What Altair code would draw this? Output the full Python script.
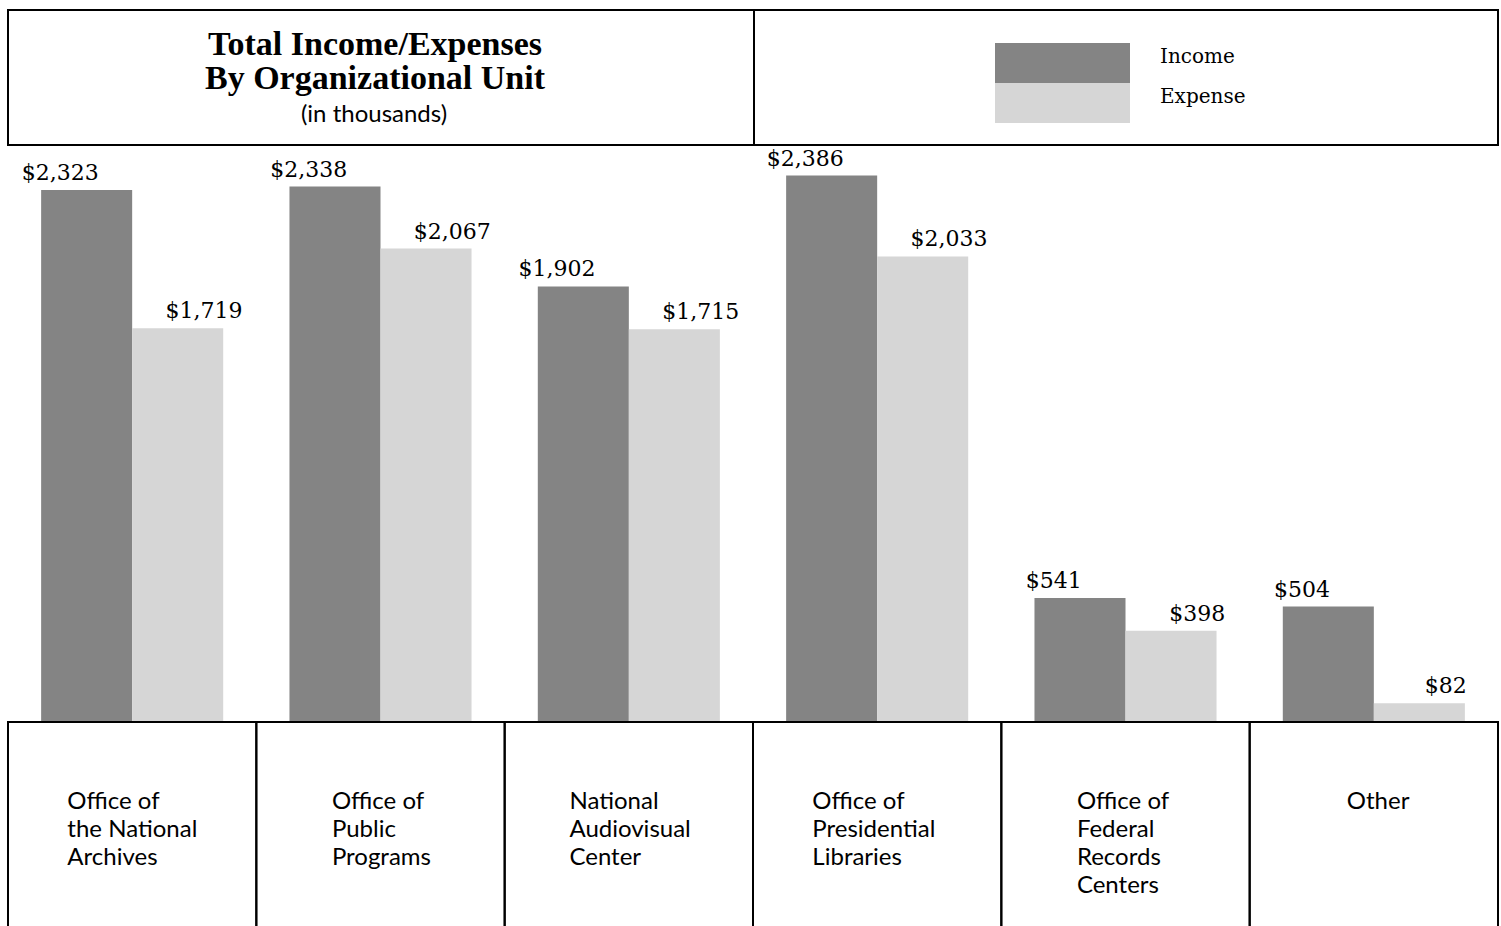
import altair as alt
import pandas as pd

# Organizational units and their multi-line captions
units = [
    "Office of the National Archives",
    "Office of Public Programs",
    "National Audiovisual Center",
    "Office of Presidential Libraries",
    "Office of Federal Records Centers",
    "Other",
]
unit_lines = [
    ["Office of", "the National", "Archives"],
    ["Office of", "Public", "Programs"],
    ["National", "Audiovisual", "Center"],
    ["Office of", "Presidential", "Libraries"],
    ["Office of", "Federal", "Records", "Centers"],
    ["Other"],
]

# Totals in thousands of dollars
series = ["Income", "Expense"]
income = [2323, 2338, 1902, 2386, 541, 504]
expense = [1719, 2067, 1715, 2033, 398, 82]
series_colors = ["#848484", "#d6d6d6"]

title_lines = ["Total Income/Expenses", "By Organizational Unit"]
subtitle = "(in thousands)"

W, H = 1501, 926
LEFT, RIGHT = 8, 1498
half_band = (RIGHT - LEFT) / len(units) / 2

bars_df = pd.DataFrame(
    [{"unit": u, "series": "Income", "value": v} for u, v in zip(units, income)]
    + [{"unit": u, "series": "Expense", "value": v} for u, v in zip(units, expense)]
)
units_df = pd.DataFrame({
    "unit": units,
    "caption": ["\n".join(l) for l in unit_lines],
    "chars": [max(len(s) for s in l) for l in unit_lines],
})

x_scale = alt.Scale(domain=units, range=[LEFT, RIGHT], paddingInner=0, paddingOuter=0)
y_scale = alt.Scale(domain=[0, 2515], range=[722, 146], nice=False, zero=True)
offset_scale = alt.Scale(domain=series, paddingInner=0, paddingOuter=0.364)

x_enc = alt.X("unit:N", scale=x_scale, axis=None, sort=units)
y_enc = alt.Y("value:Q", scale=y_scale, axis=None)
off_enc = alt.XOffset("series:N", scale=offset_scale, sort=series)

legend = alt.Legend(
    title=None,
    orient="none",
    legendX=995,
    legendY=43,
    direction="vertical",
    symbolType="M-1,-1H5.75V1H-1Z",
    symbolSize=1600,
    symbolStrokeWidth=0,
    symbolOpacity=1,
    labelOffset=125,
    labelFont="DejaVu Serif",
    labelFontSize=20,
    labelColor="black",
    labelBaseline="alphabetic",
    rowPadding=0,
    padding=0,
)

bars = alt.Chart(bars_df).mark_bar().encode(
    x=x_enc,
    xOffset=off_enc,
    y=y_enc,
    color=alt.Color("series:N", scale=alt.Scale(domain=series, range=series_colors),
                    legend=legend, sort=series),
)

values = alt.Chart(bars_df).mark_text(
    font="DejaVu Serif", fontSize=22, baseline="alphabetic", dy=-10, color="black"
).encode(
    x=x_enc,
    xOffset=off_enc,
    y=y_enc,
    text=alt.Text("value:Q", format="$,"),
)

# Boxes holding the unit captions below the bars
cells = alt.Chart(units_df).mark_rect(
    fill="transparent", stroke="black", strokeWidth=2
).encode(
    x=x_enc,
    y=alt.value(722),
    y2=alt.value(960),
)

# Captions: left-aligned lines, block roughly centred in its box
captions = alt.Chart(units_df).transform_calculate(
    xoff=f"{half_band} - 5.4 * datum.chars"
).mark_text(
    font="Lato", fontSize=24, align="left", baseline="alphabetic",
    lineBreak="\n", lineHeight=28, color="black"
).encode(
    x=x_enc,
    xOffset=alt.XOffset("xoff:Q", scale=None),
    y=alt.value(809),
    text="caption:N",
)

one_row = alt.Data(values=[{}])

title_box = alt.Chart(one_row).mark_rect(
    fill="transparent", stroke="black", strokeWidth=2
).encode(x=alt.value(LEFT), x2=alt.value(754), y=alt.value(10), y2=alt.value(145))

legend_box = alt.Chart(one_row).mark_rect(
    fill="transparent", stroke="black", strokeWidth=2
).encode(x=alt.value(754), x2=alt.value(RIGHT), y=alt.value(10), y2=alt.value(145))

title_text = alt.Chart(alt.Data(values=[{"t": "\n".join(title_lines)}])).mark_text(
    font="Liberation Serif", fontWeight="bold", fontSize=34, align="center",
    baseline="alphabetic", lineBreak="\n", lineHeight=34, color="black"
).encode(x=alt.value(375), y=alt.value(55), text="t:N")

subtitle_text = alt.Chart(alt.Data(values=[{"t": subtitle}])).mark_text(
    font="Lato", fontSize=24, align="center", baseline="alphabetic", color="black"
).encode(x=alt.value(374), y=alt.value(122), text="t:N")

chart = alt.layer(
    bars, values, cells, captions, title_box, legend_box, title_text, subtitle_text
).resolve_scale(
    xOffset="independent"
).properties(
    width=W, height=H, padding=0, autosize="none", background="white"
).configure_view(strokeWidth=0)

chart.save("out.html", embed_options={"renderer": "svg", "actions": False})
